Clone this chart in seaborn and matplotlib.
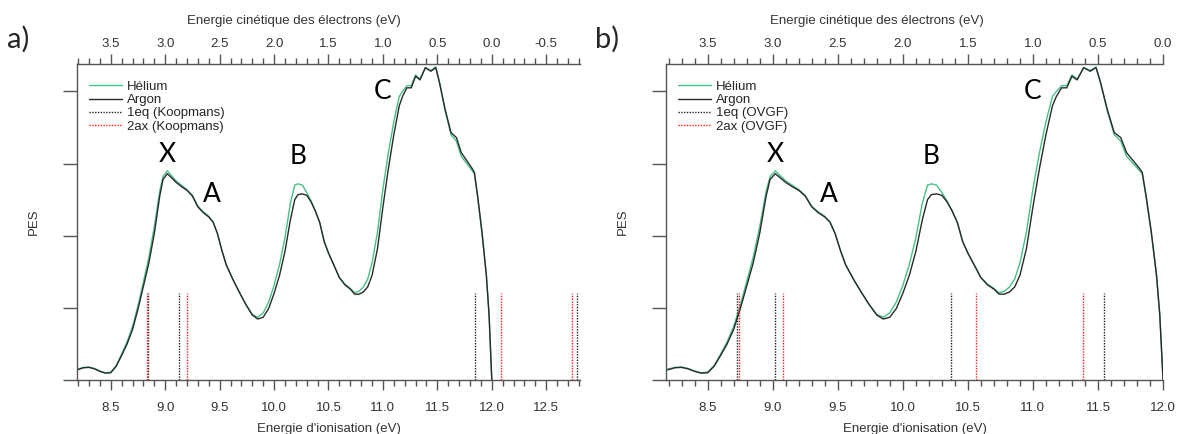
import pandas as pd
import seaborn as sns
import matplotlib.pyplot as plt
from matplotlib.ticker import MultipleLocator, FormatStrFormatter

# photon energy used for the kinetic energy axis (KE = hv - IE)
HV = 12.0

ionisation_ev = [8.19, 8.25, 8.30, 8.35, 8.40, 8.45, 8.50, 8.55, 8.60, 8.65, 8.70, 8.75,
                 8.80, 8.85, 8.90, 8.95, 8.98, 9.02, 9.06, 9.10, 9.15, 9.20, 9.25, 9.30,
                 9.35, 9.40, 9.44, 9.48, 9.52, 9.56, 9.62, 9.68, 9.74, 9.80, 9.85, 9.90,
                 9.95, 10.00, 10.05, 10.10, 10.15, 10.19, 10.22, 10.26, 10.30, 10.34, 10.38,
                 10.42, 10.46, 10.50, 10.55, 10.60, 10.65, 10.70, 10.74, 10.78, 10.82, 10.86,
                 10.90, 10.95, 11.00, 11.05, 11.10, 11.15, 11.18, 11.22, 11.26, 11.30, 11.34,
                 11.39, 11.44, 11.485, 11.52, 11.57, 11.625, 11.675, 11.72, 11.78, 11.82,
                 11.84, 11.87, 11.91, 11.95, 11.975, 12.00]

pes_argon = [0.14, 0.17, 0.175, 0.155, 0.12, 0.095, 0.10, 0.19, 0.34, 0.50, 0.70, 0.98,
             1.30, 1.62, 2.03, 2.55, 2.78, 2.86, 2.80, 2.74, 2.68, 2.63, 2.55, 2.40,
             2.32, 2.26, 2.19, 2.03, 1.80, 1.60, 1.40, 1.22, 1.05, 0.90, 0.845, 0.87,
             0.99, 1.20, 1.45, 1.78, 2.22, 2.50, 2.57, 2.58, 2.56, 2.47, 2.34,
             2.18, 1.92, 1.76, 1.59, 1.42, 1.32, 1.26, 1.19, 1.19, 1.22, 1.29,
             1.45, 1.82, 2.40, 2.93, 3.40, 3.80, 3.93, 4.05, 4.05, 4.21, 4.16,
             4.33, 4.28, 4.33, 4.12, 3.76, 3.43, 3.36, 3.15, 3.02, 2.93,
             2.88, 2.55, 2.05, 1.45, 0.90, 0.0]

pes_helium = [0.15, 0.175, 0.18, 0.16, 0.125, 0.10, 0.11, 0.20, 0.36, 0.53, 0.74, 1.03,
              1.36, 1.70, 2.12, 2.62, 2.82, 2.90, 2.83, 2.76, 2.70, 2.64, 2.56, 2.41,
              2.33, 2.27, 2.19, 2.03, 1.80, 1.60, 1.40, 1.22, 1.05, 0.91, 0.87, 0.93,
              1.08, 1.31, 1.60, 1.97, 2.45, 2.70, 2.72, 2.70, 2.60, 2.48, 2.34,
              2.18, 1.92, 1.76, 1.59, 1.42, 1.33, 1.27, 1.21, 1.23, 1.29, 1.40,
              1.62, 2.05, 2.65, 3.15, 3.58, 3.93, 4.00, 4.08, 4.08, 4.23, 4.17,
              4.33, 4.29, 4.34, 4.12, 3.74, 3.40, 3.31, 3.10, 2.98, 2.90,
              2.86, 2.53, 2.03, 1.45, 0.90, 0.0]

# calculated ionisation energies (eV)
koopmans_1eq = [8.845, 9.13, 11.85, 12.78]
koopmans_2ax = [8.835, 9.20, 12.08, 12.735]
ovgf_1eq = [8.725, 9.02, 10.37, 11.55]
ovgf_2ax = [8.745, 9.08, 10.56, 11.385]
stick_height = 1.2

peak_names = ['X', 'A', 'B', 'C']
peak_ie = [9.02, 9.43, 10.22, 11.0]
peak_pes = [3.12, 2.57, 3.1, 4.0]

# tick labels
ie_ticks_a = [8.5, 9.0, 9.5, 10.0, 10.5, 11.0, 11.5, 12.0, 12.5]
ie_ticks_b = [8.5, 9.0, 9.5, 10.0, 10.5, 11.0, 11.5, 12.0]
ke_ticks_a = [3.5, 3.0, 2.5, 2.0, 1.5, 1.0, 0.5, 0.0, -0.5]
ke_ticks_b = [3.5, 3.0, 2.5, 2.0, 1.5, 1.0, 0.5, 0.0]

df = pd.DataFrame({'ie': ionisation_ev * 2,
                   'pes': pes_helium + pes_argon,
                   'gaz': ['Hélium'] * len(ionisation_ev) + ['Argon'] * len(ionisation_ev)})

sns.set_theme(style='white')
plt.rcParams['font.family'] = ['Liberation Sans', 'DejaVu Sans']
plt.rcParams['axes.unicode_minus'] = False

GREEN = '#45c086'
DARK = '#2a2a2a'
AXC = '#555555'
TXT = '#333333'
FS = 9.5

fig = plt.figure(figsize=(11.81, 4.34), dpi=100)
ax_a = fig.add_axes([0.0652, 0.1244, 0.4259, 0.7281])
ax_b = fig.add_axes([0.5639, 0.1244, 0.4209, 0.7281])


def draw_panel(ax, xlim, ie_ticks, ke_ticks, sticks_1eq, sticks_2ax, method, top_label_x):
    for gaz, color in [('Hélium', GREEN), ('Argon', DARK)]:
        sub = df[df['gaz'] == gaz]
        sns.lineplot(data=sub, x='ie', y='pes', color=color, lw=1.0, sort=False,
                     estimator=None, ax=ax, label=gaz)
    ax.vlines(sticks_1eq, 0, stick_height, colors='#222222', linestyles=(0, (1, 1)),
              lw=1.0, label=f'1eq ({method})')
    ax.vlines(sticks_2ax, 0, stick_height, colors='#ff2020', linestyles=(0, (1, 1)),
              lw=1.0, label=f'2ax ({method})')

    for name, x, y in zip(peak_names, peak_ie, peak_pes):
        ax.text(x, y, name, fontsize=19, family='Lato', ha='center', va='center', color='black')

    ax.set_xlim(*xlim)
    ax.set_ylim(0, 4.38)
    ax.set_yticks([0, 1, 2, 3, 4])
    ax.set_yticklabels([])
    ax.set_xticks(ie_ticks)
    ax.xaxis.set_minor_locator(MultipleLocator(0.1))
    ax.xaxis.set_major_formatter(FormatStrFormatter('%.1f'))
    ax.tick_params(axis='x', which='major', direction='out', length=7, width=1,
                   color=AXC, labelsize=FS, labelcolor=TXT, pad=9, bottom=True)
    ax.tick_params(axis='x', which='minor', direction='out', length=4, width=1,
                   color=AXC, bottom=True)
    ax.tick_params(axis='y', which='major', direction='out', length=10, width=1,
                   color=AXC, left=True)
    for side in ['right', 'top']:
        ax.spines[side].set_visible(False)
    for side in ['left', 'bottom']:
        ax.spines[side].set_color(AXC)
        ax.spines[side].set_linewidth(1)
    ax.set_xlabel("Energie d'ionisation (eV)", fontsize=FS, color=TXT, labelpad=6)
    ax.set_ylabel('PES', fontsize=FS, color=TXT, labelpad=13)

    top = ax.secondary_xaxis('top', functions=(lambda e: HV - e, lambda k: HV - k))
    top.set_xticks(ke_ticks)
    top.xaxis.set_minor_locator(MultipleLocator(0.1))
    top.xaxis.set_major_formatter(FormatStrFormatter('%.1f'))
    top.tick_params(axis='x', which='major', direction='out', length=7, width=1,
                    color=AXC, labelsize=FS, labelcolor=TXT, pad=3)
    top.tick_params(axis='x', which='minor', direction='out', length=4, width=1, color=AXC)
    top.spines['top'].set_color(AXC)
    top.spines['top'].set_linewidth(1)
    top.set_xlabel('Energie cinétique des électrons (eV)', fontsize=FS, color=TXT, labelpad=10)
    top.xaxis.label.set_x(top_label_x)

    ax.legend(loc='upper left', bbox_to_anchor=(0.0, 0.985), frameon=False, fontsize=9.5,
              handlelength=2.5, handletextpad=0.4, labelspacing=0.08, borderaxespad=0.5)


draw_panel(ax_a, (8.19, 12.81), ie_ticks_a, ke_ticks_a, koopmans_1eq, koopmans_2ax,
           'Koopmans', 0.432)
draw_panel(ax_b, (8.18, 12.0), ie_ticks_b, ke_ticks_b, ovgf_1eq, ovgf_2ax, 'OVGF', 0.425)

fig.text(0.006, 0.91, 'a)', fontsize=21, family='Lato', va='center')
fig.text(0.504, 0.91, 'b)', fontsize=21, family='Lato', va='center')

fig.savefig('out.png', dpi=100, facecolor='white')
